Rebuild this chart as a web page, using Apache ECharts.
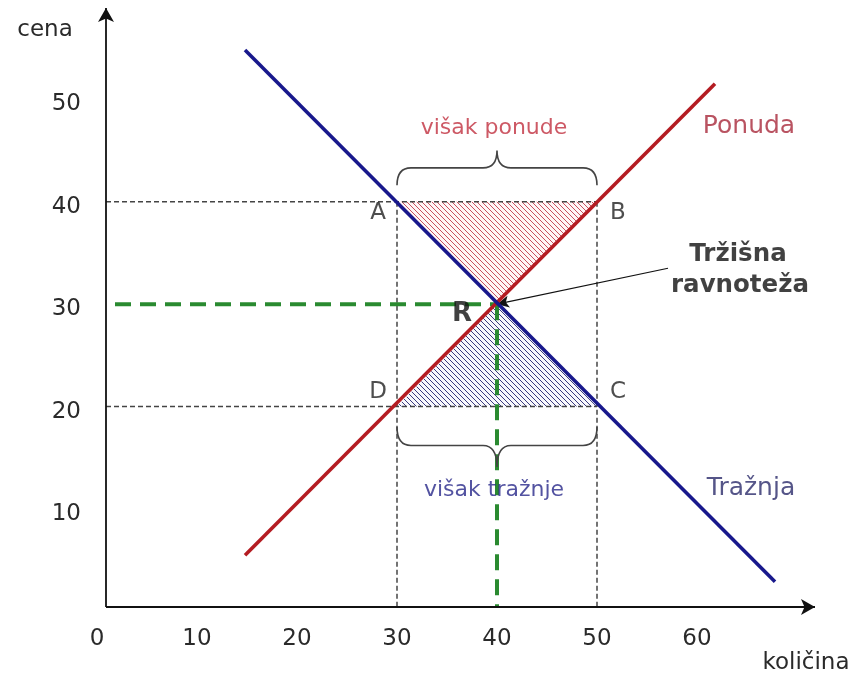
<!DOCTYPE html>
<html><head><meta charset="utf-8">
<script src="https://cdn.jsdelivr.net/npm/echarts@6/dist/echarts.min.js"></script>
<style>html,body{margin:0;background:#fff}#c{width:867px;height:678px}</style>
</head><body><div id="c"></div>
<script>
// ---- data ----
const xTickValues = [0, 10, 20, 30, 40, 50, 60];
const yTickValues = [10, 20, 30, 40, 50];
const supplyLine = [[14.8, 5.5], [61.8, 51.5]];      // Ponuda
const demandLine = [[14.8, 54.8], [67.8, 2.9]];      // Tražnja
const equilibrium = [40, 30];                        // R
const priceHigh = 40, priceLow = 20;
const qtyLow = 30, qtyHigh = 50;
const excessSupply = [[30, 40], [50, 40], [40, 30]]; // A B R
const excessDemand = [[30, 20], [50, 20], [40, 30]]; // D C R

// annotation anchors (data coordinates)
const originQ = 0.9, originP = 0.45;
const textLabels = [
  {t: 'A', at: [28.1, 38.9], c: '#222', s: 23, w: 'normal'},
  {t: 'B', at: [52.1, 38.9], c: '#222', s: 23, w: 'normal'},
  {t: 'D', at: [28.1, 21.4], c: '#222', s: 23, w: 'normal'},
  {t: 'C', at: [52.1, 21.4], c: '#222', s: 23, w: 'normal'},
  {t: 'R', at: [36.5, 29.0], c: '#111', s: 26, w: 'bold'},
  {t: 'Ponuda', at: [65.2, 47.3], c: '#a8283a', s: 25, w: 'normal'},
  {t: 'Tražnja', at: [65.4, 12.05], c: '#2a2a6a', s: 25, w: 'normal'},
  {t: 'višak ponude', at: [39.7, 47.2], c: '#c0303e', s: 22, w: 'normal'},
  {t: 'višak tražnje', at: [39.7, 11.85], c: '#28288a', s: 22, w: 'normal'},
  {t: 'Tržišna', at: [64.1, 34.8], c: '#111', s: 24.5, w: 'bold'},
  {t: 'ravnoteža', at: [64.3, 31.85], c: '#111', s: 24.5, w: 'bold'}
];
const arrowFrom = [57.1, 33.5];

function hatch(color, bg) {
  const n = 5, cv = document.createElement('canvas');
  cv.width = n; cv.height = n;
  const g = cv.getContext('2d');
  g.fillStyle = bg; g.fillRect(0, 0, n, n);
  g.strokeStyle = color; g.lineWidth = 1;
  g.beginPath();
  g.moveTo(-1, -1); g.lineTo(n + 1, n + 1);
  g.moveTo(-1, n - 1); g.lineTo(1, n + 1);
  g.moveTo(n - 1, -1); g.lineTo(n + 1, 1);
  g.stroke();
  return {image: cv, repeat: 'repeat'};
}

function dashed(data, color, width, dash) {
  return {type: 'line', data, symbol: 'none', silent: true, z: 3,
    lineStyle: {color, width, type: dash}, animation: false};
}

function triangle(pts, fill) {
  return {type: 'custom', data: [equilibrium], silent: true, z: 1, animation: false,
    renderItem: (params, api) => ({type: 'polygon',
      shape: {points: pts.map(p => api.coord(p))}, style: {fill: fill, stroke: null}})};
}

function brace(q1, q2, pEnd, pMid, pTip) {
  return {type: 'custom', data: [equilibrium], silent: true, z: 4, animation: false,
    renderItem: (params, api) => {
      const qm = (q1 + q2) / 2, r = 1.4;
      const P = p => api.coord(p);
      const a = P([q1, pEnd]), b = P([q1, pMid]), c = P([q1 + r, pMid]), d = P([qm - r, pMid]),
            e = P([qm, pMid]), f = P([qm, pTip]), g = P([qm + r, pMid]), h = P([q2 - r, pMid]),
            i = P([q2, pMid]), j = P([q2, pEnd]);
      const path = `M${a[0]},${a[1]} Q${b[0]},${b[1]} ${c[0]},${c[1]} L${d[0]},${d[1]} Q${e[0]},${e[1]} ${f[0]},${f[1]} Q${e[0]},${e[1]} ${g[0]},${g[1]} L${h[0]},${h[1]} Q${i[0]},${i[1]} ${j[0]},${j[1]}`;
      return {type: 'path', shape: {pathData: path},
        style: {fill: null, stroke: '#444', lineWidth: 1.6}};
    }};
}

const chart = echarts.init(document.getElementById('c'), null, {renderer: 'canvas'});
const font = 'DejaVu Sans';
chart.setOption({
  backgroundColor: '#fff',
  animation: false,
  grid: {left: 97, right: 50, top: 7, bottom: 66.5, containLabel: false},
  xAxis: {type: 'value', min: 0, max: 72, interval: 10,
    axisLine: {show: false}, axisTick: {show: false}, splitLine: {show: false},
    axisLabel: {margin: 16, fontFamily: font, fontSize: 23, color: '#2a2a2a',
      formatter: v => xTickValues.includes(v) ? String(v) : ''}},
  yAxis: {type: 'value', min: 0, max: 59, interval: 10,
    axisLine: {show: false}, axisTick: {show: false}, splitLine: {show: false},
    axisLabel: {margin: 16, fontFamily: font, fontSize: 23, color: '#2a2a2a',
      verticalAlign: 'top', lineHeight: 10,
      formatter: v => yTickValues.includes(v) ? String(v) : ''}},
  graphic: [
    {type: 'text', x: 45, y: 30, style: {text: 'cena', font: '23px DejaVu Sans', fill: '#2a2a2a', align: 'center', verticalAlign: 'middle'}},
    {type: 'text', x: 806, y: 663, style: {text: 'količina', font: '23px DejaVu Sans', fill: '#2a2a2a', align: 'center', verticalAlign: 'middle'}}
  ],
  series: [
    triangle(excessSupply, hatch('#c8505e', '#fff6f6')),
    triangle(excessDemand, hatch('#3a3a7e', '#f8f8fc')),
    dashed([[originQ, priceHigh], [qtyHigh, priceHigh]], '#444', 1.5, [5, 3]),
    dashed([[originQ, priceLow], [qtyHigh, priceLow]], '#444', 1.5, [5, 3]),
    dashed([[qtyLow, priceHigh], [qtyLow, originP]], '#444', 1.5, [5, 3]),
    dashed([[qtyHigh, priceHigh], [qtyHigh, originP]], '#444', 1.5, [5, 3]),
    dashed([[1.8, equilibrium[1]], equilibrium], '#2a8a30', 4, [16, 9]),
    dashed([equilibrium, [equilibrium[0], originP]], '#2a8a30', 4, [16, 9]),
    {type: 'line', data: supplyLine, symbol: 'none', silent: true, z: 5,
      lineStyle: {color: '#b41c22', width: 3.6}},
    {type: 'line', data: demandLine, symbol: 'none', silent: true, z: 6,
      lineStyle: {color: '#18188c', width: 3.6}},
    brace(qtyLow, qtyHigh, 41.6, 43.3, 45.0),
    brace(qtyLow, qtyHigh, 18.0, 16.2, 14.1),
    {type: 'line', data: [], silent: true, z: 7,
      markLine: {silent: true, symbol: ['none', 'arrow'], animation: false,
        label: {show: false},
        data: [
          [{coord: [originQ, originP], symbol: 'none', lineStyle: {color: '#111', width: 1.8, type: 'solid'}},
           {coord: [originQ, 58.9], symbol: 'arrow', symbolSize: [12, 14]}],
          [{coord: [originQ, originP], symbol: 'none', lineStyle: {color: '#111', width: 1.8, type: 'solid'}},
           {coord: [71.8, originP], symbol: 'arrow', symbolSize: [12, 14]}],
          [{coord: arrowFrom, symbol: 'none', lineStyle: {color: '#111', width: 1.2, type: 'solid'}},
           {coord: equilibrium, symbol: 'arrow', symbolSize: [9, 12]}]
        ]}},
    {type: 'scatter', silent: true, z: 8, symbolSize: 0,
      data: textLabels.map(l => ({value: l.at, label: {show: true, position: 'inside',
        formatter: l.t, color: l.c, fontSize: l.s, fontWeight: l.w, fontFamily: font}}))}
  ]
});
</script></body></html>
